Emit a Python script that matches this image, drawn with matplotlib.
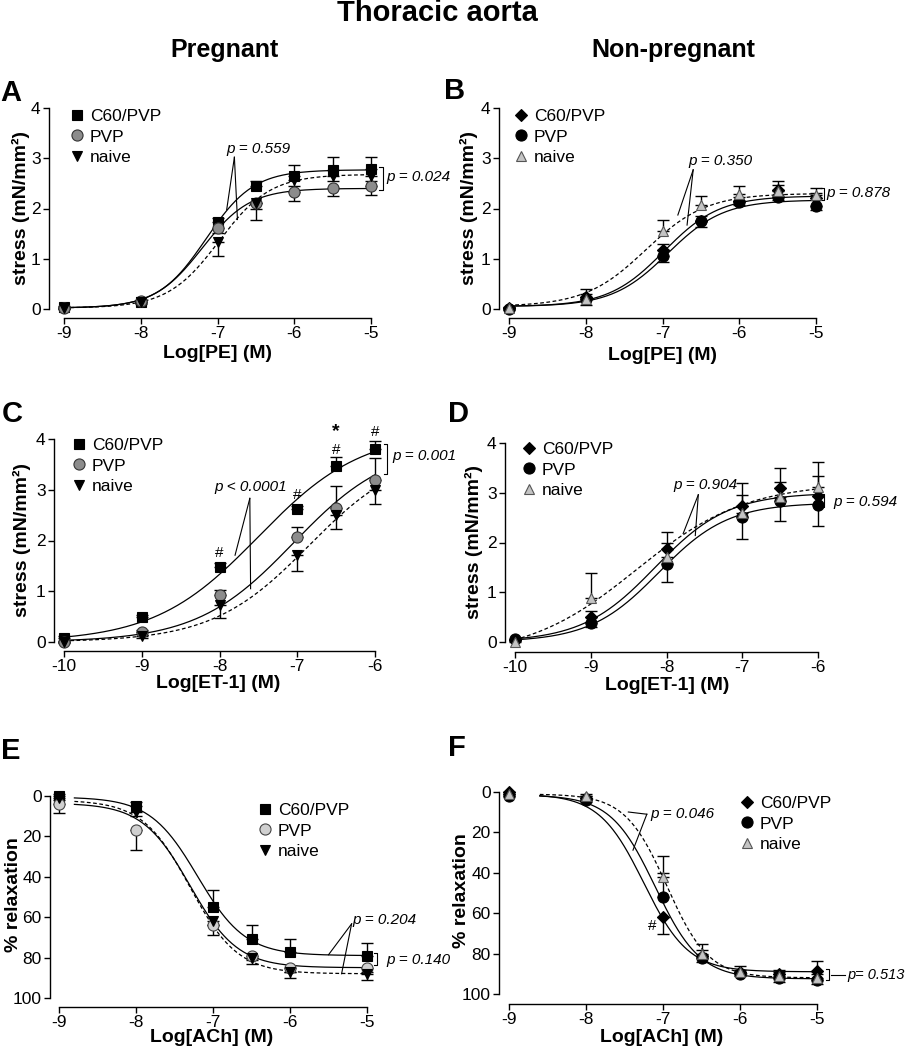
import numpy as np
import matplotlib
matplotlib.use('Agg')
import matplotlib.pyplot as plt
from matplotlib.lines import Line2D

plt.rcParams['font.family'] = ['Liberation Sans', 'DejaVu Sans']
plt.rcParams['axes.unicode_minus'] = False

W, H = 905, 1050

# ---- data ----
labels = ['C60/PVP', 'PVP', 'naive']

# A: pregnant, PE
x_pe = [-9, -8, -7, -6.5, -6, -5.5, -5]
a_c60 = [0.03, 0.13, 1.74, 2.44, 2.65, 2.76, 2.79]
a_c60_err = [0.03, 0.05, 0.08, 0.10, 0.22, 0.26, 0.23]
a_pvp = [0.02, 0.15, 1.61, 2.11, 2.32, 2.41, 2.44]
a_pvp_err = [-0.02, -0.04, -0.10, -0.12, -0.17, -0.16, -0.17]
a_naive = [0.02, 0.13, 1.33, 2.10, 2.57, 2.65, 2.65]
a_naive_err = [-0.02, -0.04, -0.27, -0.32, -0.12, -0.10, -0.10]
# fit parameters: bottom, top, logEC50, hill
a_fits = [[0.02, 2.77, -7.15, 1.4], [0.02, 2.40, -7.20, 1.4], [0.02, 2.68, -6.98, 1.3]]

# B: non-pregnant, PE
b_c60 = [0.01, 0.24, 1.17, 1.75, 2.14, 2.37, 2.20]
b_c60_err = [0.02, 0.16, 0.12, 0.10, 0.08, 0.10, 0.10]
b_pvp = [0.00, 0.20, 1.05, 1.75, 2.12, 2.22, 2.05]
b_pvp_err = [-0.02, -0.12, -0.12, -0.12, -0.06, -0.06, -0.08]
b_naive = [0.02, 0.20, 1.55, 2.07, 2.28, 2.35, 2.27]
b_naive_err = [0.02, 0.10, 0.23, 0.17, 0.17, 0.20, 0.13]
b_fits = [[0.05, 2.25, -6.98, 1.2], [0.05, 2.17, -6.93, 1.2], [0.05, 2.30, -7.22, 1.1]]

# C: pregnant, ET-1
x_et = [-10, -9, -8, -7, -6.5, -6]
c_c60 = [0.08, 0.49, 1.48, 2.63, 3.47, 3.80]
c_c60_err = [0.03, 0.05, 0.08, 0.05, 0.17, 0.17]
c_pvp = [0.00, 0.20, 0.92, 2.07, 2.65, 3.20]
c_pvp_err = [0.02, 0.04, 0.10, 0.20, 0.42, 0.42]
c_naive = [0.00, 0.12, 0.72, 1.72, 2.50, 3.00]
c_naive_err = [-0.02, -0.04, -0.24, -0.33, -0.28, -0.28]
c_fits = [[0.0, 4.15, -7.50, 0.65], [0.0, 3.90, -7.05, 0.70], [0.0, 3.80, -6.85, 0.70]]

# D: non-pregnant, ET-1
d_c60 = [0.05, 0.50, 1.87, 2.73, 3.10, 2.93]
d_c60_err = [0.02, 0.13, 0.35, 0.47, 0.40, 0.40]
d_pvp = [0.07, 0.38, 1.57, 2.52, 2.83, 2.75]
d_pvp_err = [-0.02, -0.08, -0.37, -0.45, -0.39, -0.41]
d_naive = [0.00, 0.88, 1.70, 2.60, 2.92, 3.12]
d_naive_err = [0.02, 0.50, 0.30, 0.35, 0.30, 0.50]
d_fits = [[0.0, 3.00, -8.15, 0.90], [0.0, 2.80, -8.10, 0.95], [-0.30, 3.20, -8.40, 0.60]]

# E: pregnant, ACh
x_ach_e = [-9, -8, -7, -6.5, -6, -5]
e_c60 = [0, 5, 55, 71, 77, 79]
e_c60_err = [-1, -2, -8.5, -7, -6, -6]
e_pvp = [4, 17, 64, 79, 85, 85]
e_pvp_err = [4.5, 9.5, 5, 2, 2, 2]
e_naive = [1, 8, 62, 80, 87, 88]
e_naive_err = [1, 2, 2, 3, 3, 3]
e_fits = [[0.5, 79, -7.20, 1.4], [3.5, 85, -7.30, 1.4], [2.0, 88, -7.30, 1.4]]

# F: non-pregnant, ACh
x_ach_f = [-9, -8, -7, -6.5, -6, -5.5, -5]
f_c60 = [0, 3, 62, 81, 89, 90, 88.5]
f_c60_err = [1, 2, 8.5, 3, 2, -2, -5]
f_pvp = [2, 4, 52, 82, 90, 92, 93]
f_pvp_err = [-1, -2, -12, -4, -2, 2, 2]
f_naive = [1, 2, 42, 80, 89, 91, 92]
f_naive_err = [-1, -1, -10.5, -5, -3, -2, -2]
f_fits = [[1.0, 89, -7.25, 1.5], [1.5, 92.5, -7.10, 1.5], [1.0, 92, -6.95, 1.6]]


def hill(x, p):
    b, t, c, h = p
    return b + (t - b) / (1 + 10 ** (h * (c - x)))


def rect(x0, y0, x1, y1):
    return [x0 / W, 1 - y1 / H, (x1 - x0) / W, (y1 - y0) / H]


# marker styles per column
style_preg = [dict(marker='s', mfc='black', mec='black', ms=7.5),
              dict(marker='o', mfc='#8c8c8c', mec='#333333', ms=8),
              dict(marker='v', mfc='black', mec='black', ms=7.5)]
style_preg_e = [dict(marker='s', mfc='black', mec='black', ms=7.5),
                dict(marker='o', mfc='#d0d0d0', mec='#444444', ms=8),
                dict(marker='v', mfc='black', mec='black', ms=7.5)]
style_non = [dict(marker='D', mfc='black', mec='black', ms=6.5),
             dict(marker='o', mfc='black', mec='black', ms=8),
             dict(marker='^', mfc='#c4c4c4', mec='#555555', ms=7.5)]

fig = plt.figure(figsize=(W / 100, H / 100), dpi=100)


def panel(box, x, series, errs, fits, styles, xlim, ylim, yticks, offs,
          fit_start=None, invert=False, leg_xy=None):
    ax = fig.add_axes(rect(*box))
    for ax_s in ['top', 'right']:
        ax.spines[ax_s].set_visible(False)
    ax.spines['left'].set_position(('outward', offs[0]))
    ax.spines['bottom'].set_position(('outward', offs[1]))
    ax.spines['left'].set_bounds(ylim[0], ylim[1])
    ax.spines['bottom'].set_bounds(xlim[0], xlim[1])
    for s in ['left', 'bottom']:
        ax.spines[s].set_linewidth(1.0)
    ax.set_xlim(xlim)
    if invert:
        ax.set_ylim(ylim[1], ylim[0])
    else:
        ax.set_ylim(ylim)
    ax.set_yticks(yticks)
    ax.set_xticks(np.arange(xlim[0], xlim[1] + 1))
    ax.tick_params(direction='out', length=4, width=1.0, labelsize=12.5, pad=2)

    x0 = xlim[0] if fit_start is None else fit_start
    xx = np.linspace(x0, xlim[1], 300)
    for i, p in enumerate(fits):
        ls = (0, (3, 2)) if i == 2 else '-'
        ax.plot(xx, hill(xx, p), color='black', lw=0.9, ls=ls, clip_on=False, zorder=2)
    handles = []
    for i, (y, e) in enumerate(zip(series, errs)):
        e = np.array(e)
        lo = np.where(e < 0, -e, 0)
        hi = np.where(e > 0, e, 0)
        ax.errorbar(x, y, yerr=[lo, hi], fmt='none', ecolor='black', elinewidth=1,
                    capsize=4, capthick=1, clip_on=False, zorder=3)
        ax.plot(x, y, ls='none', clip_on=False, zorder=4 + i, mew=0.8, **styles[i])
        handles.append(Line2D([], [], ls='none', mew=0.8, **styles[i]))
    if leg_xy is not None:
        ax.legend(handles, labels, loc='upper left', frameon=False,
                  bbox_to_anchor=(leg_xy[0] / W, 1 - leg_xy[1] / H),
                  bbox_transform=fig.transFigure, fontsize=12.5, handlelength=0.8,
                  handletextpad=0.35, labelspacing=0.3, borderpad=0, borderaxespad=0)
    return ax


def bracket(ax, xb, y0, y1, w=0.04):
    ax.plot([xb - w, xb, xb, xb - w], [y0, y0, y1, y1], color='black', lw=0.8, clip_on=False)


def pnote(ax, txt, x, y, ha='left', size=11):
    ax.text(x, y, txt, fontsize=size, style='italic', ha=ha, va='center')


def lines_from(ax, start, ends):
    for e in ends:
        ax.plot([start[0], e[0]], [start[1], e[1]], color='black', lw=0.8, clip_on=False)


# headings
fig.text(437 / W, 1 - 13 / H, 'Thoracic aorta', ha='center', va='center', fontsize=21, weight='bold')
fig.text(224 / W, 1 - 50 / H, 'Pregnant', ha='center', va='center', fontsize=18, weight='bold')
fig.text(673 / W, 1 - 50 / H, 'Non-pregnant', ha='center', va='center', fontsize=18, weight='bold')

# A
ax = panel((64, 108, 371, 309), x_pe, [a_c60, a_pvp, a_naive], [a_c60_err, a_pvp_err, a_naive_err],
           a_fits, style_preg, (-9, -5), (0, 4), [0, 1, 2, 3, 4], (10.8, 6.5), leg_xy=(70, 109))
lines_from(ax, (-6.78, 3.02), [(-6.88, 1.98), (-6.74, 1.78)])
pnote(ax, 'p = 0.559', -6.47, 3.19, ha='center')
bracket(ax, -4.85, 2.36, 2.83)
pnote(ax, 'p = 0.024', -4.80, 2.62)

# B
ax = panel((509, 108, 816, 309), x_pe, [b_c60, b_pvp, b_naive], [b_c60_err, b_pvp_err, b_naive_err],
           b_fits, style_non, (-9, -5), (0, 4), [0, 1, 2, 3, 4], (7.2, 6.5), leg_xy=(514, 109))
lines_from(ax, (-6.6, 2.77), [(-6.8, 1.87), (-6.68, 1.67)])
pnote(ax, 'p = 0.350', -6.25, 2.94, ha='center')
bracket(ax, -4.90, 2.17, 2.40)
pnote(ax, 'p = 0.878', -4.87, 2.30)

# C
ax = panel((64, 439, 375, 642), x_et, [c_c60, c_pvp, c_naive], [c_c60_err, c_pvp_err, c_naive_err],
           c_fits, style_preg, (-10, -6), (0, 4), [0, 1, 2, 3, 4], (7.2, 6.5), leg_xy=(72, 438))
lines_from(ax, (-7.61, 2.83), [(-7.8, 1.71), (-7.6, 1.05)])
pnote(ax, 'p < 0.0001', -7.6, 3.05, ha='center')
bracket(ax, -5.85, 3.32, 3.90)
pnote(ax, 'p = 0.001', -5.78, 3.66)
for xs, ys in zip([-8, -7, -6.5, -6], [1.76, 2.9, 3.78, 4.13]):
    ax.text(xs, ys, '#', ha='center', va='center', fontsize=11)
ax.text(-6.5, 4.14, '*', ha='center', va='center', fontsize=14, weight='bold')

# D
ax = panel((515, 443, 818, 642), x_et, [d_c60, d_pvp, d_naive], [d_c60_err, d_pvp_err, d_naive_err],
           d_fits, style_non, (-10, -6), (0, 4), [0, 1, 2, 3, 4], (7.2, 7.2), leg_xy=(522, 442))
lines_from(ax, (-7.58, 2.96), [(-7.78, 2.18), (-7.62, 2.14)])
pnote(ax, 'p = 0.904', -7.49, 3.15, ha='center')
bracket(ax, -5.92, 2.72, 2.98)
pnote(ax, 'p = 0.594', -5.80, 2.82)

# E
ax = panel((59, 796, 367, 998), x_ach_e, [e_c60, e_pvp, e_naive], [e_c60_err, e_pvp_err, e_naive_err],
           e_fits, style_preg_e, (-9, -5), (0, 100), [0, 20, 40, 60, 80, 100], (6.5, 6.5),
           fit_start=-8.8, invert=True, leg_xy=(258, 803))
lines_from(ax, (-5.2, 63.3), [(-5.5, 78.6), (-5.33, 88)])
pnote(ax, 'p = 0.204', -4.78, 61.6, ha='center')
bracket(ax, -4.87, 77.8, 83.5)
pnote(ax, 'p = 0.140', -4.75, 81.4)

# F
ax = panel((509, 792, 817, 994), x_ach_f, [f_c60, f_pvp, f_naive], [f_c60_err, f_pvp_err, f_naive_err],
           f_fits, style_non, (-9, -5), (0, 100), [0, 20, 40, 60, 80, 100], (7.2, 7.2),
           fit_start=-8.6, invert=True, leg_xy=(740, 796))
lines_from(ax, (-7.21, 11), [(-7.45, 9.9), (-7.39, 28.8)])
pnote(ax, 'p = 0.046', -7.16, 11)
ax.text(-7.14, 66.4, '#', ha='center', va='center', fontsize=11)
bracket(ax, -4.84, 87.8, 93.0)
ax.plot([-4.82, -4.63], [90.4, 90.4], color='black', lw=0.8, clip_on=False)
pnote(ax, 'p= 0.513', -4.60, 90.4, size=10.5)

# axis labels and panel letters in figure pixels
stress_lab = 'stress (mN/mm²)'
xlab = [(217, 353, 'Log[PE] (M)'), (662, 355, 'Log[PE] (M)'), (218, 683, 'Log[ET-1] (M)'),
        (667, 685, 'Log[ET-1] (M)'), (212, 1038, 'Log[ACh] (M)'), (662, 1037, 'Log[ACh] (M)')]
for xp, yp, t in xlab:
    fig.text(xp / W, 1 - yp / H, t, ha='center', va='center', fontsize=14, weight='bold')
ylab = [(21, 208, stress_lab), (469, 208, stress_lab), (22, 540, stress_lab),
        (474, 542, stress_lab), (13, 895, '% relaxation'), (461, 891, '% relaxation')]
for xp, yp, t in ylab:
    fig.text(xp / W, 1 - yp / H, t, ha='center', va='center', fontsize=14, weight='bold', rotation=90)
letters = [(11, 93, 'A'), (455, 91, 'B'), (12, 414, 'C'), (458, 414, 'D'), (11, 751, 'E'), (457, 748, 'F')]
for xp, yp, t in letters:
    fig.text(xp / W, 1 - yp / H, t, ha='center', va='center', fontsize=21, weight='bold')

fig.savefig('out.png', dpi=100)
